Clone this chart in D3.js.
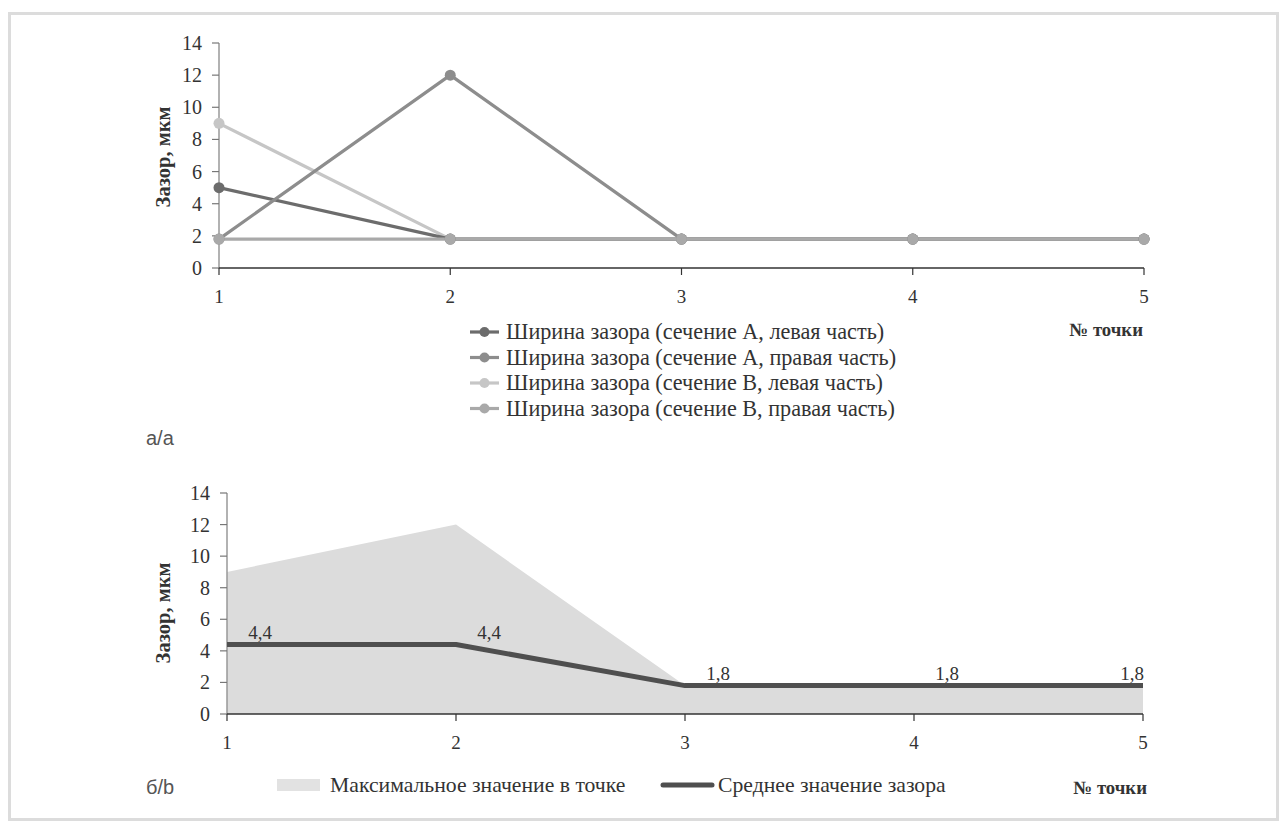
<!DOCTYPE html>
<html><head><meta charset="utf-8">
<script src="https://cdn.jsdelivr.net/npm/d3@7"></script>
<style>body{margin:0;background:#fff}svg{display:block}
text{font-family:"Liberation Serif","Times New Roman",serif;fill:#333}
text.sans{font-family:"Liberation Sans",Arial,sans-serif;fill:#555}
</style>
</head><body>
<svg id="c" width="1282" height="827"></svg>
<script>
const points = [1, 2, 3, 4, 5];
const yTicks = [0, 2, 4, 6, 8, 10, 12, 14];
const seriesNames = [
  "Ширина зазора (сечение А, левая часть)",
  "Ширина зазора (сечение А, правая часть)",
  "Ширина зазора (сечение В, левая часть)",
  "Ширина зазора (сечение В, правая часть)"
];
const aLeft  = [5, 1.8, 1.8, 1.8, 1.8];
const aRight = [1.8, 12, 1.8, 1.8, 1.8];
const bLeft  = [9, 1.8, 1.8, 1.8, 1.8];
const bRight = [1.8, 1.8, 1.8, 1.8, 1.8];
const maxVals = [9, 12, 1.8, 1.8, 1.8];
const avgVals = [4.4, 4.4, 1.8, 1.8, 1.8];
const bottomLegend = ["Максимальное значение в точке", "Среднее значение зазора"];
const yTitle = "Зазор, мкм";
const xTitle = "№ точки";

const colors = ["#6c6c6c", "#8d8d8d", "#c6c6c6", "#a9a9a9"];
const svg = d3.select("#c");

svg.append("rect").attr("x", 9.5).attr("y", 13.5).attr("width", 1268).attr("height", 806)
  .attr("fill", "none").attr("stroke", "#dcdcdc").attr("stroke-width", 3);

function axes(g, x, y, yTitleX, yTitleY, xLabelBase) {
  const [x0, x1] = x.range();
  const [y0, y1] = y.range();
  g.append("line").attr("x1", x0).attr("x2", x0).attr("y1", y0).attr("y2", y1)
    .attr("stroke", "#999").attr("stroke-width", 1.5);
  yTicks.forEach(t => {
    g.append("line").attr("x1", x0 - 7).attr("x2", x0).attr("y1", y(t)).attr("y2", y(t))
      .attr("stroke", "#777").attr("stroke-width", 1.2);
    g.append("text").attr("x", x0 - 17).attr("y", y(t) + 7).attr("text-anchor", "end")
      .style("font-size", "20px").text(t);
  });
  g.append("line").attr("x1", x0).attr("x2", x1).attr("y1", y0).attr("y2", y0)
    .attr("stroke", "#333").attr("stroke-width", 1.5);
  points.forEach(p => {
    g.append("line").attr("x1", x(p)).attr("x2", x(p)).attr("y1", y0).attr("y2", y0 + 7)
      .attr("stroke", "#333").attr("stroke-width", 1.2);
    g.append("text").attr("x", x(p)).attr("y", xLabelBase).attr("text-anchor", "middle")
      .style("font-size", "19px").text(p);
  });
  g.append("text").attr("transform", `translate(${yTitleX},${yTitleY}) rotate(-90)`)
    .attr("text-anchor", "middle").style("font-size", "20.5px")
    .style("font-weight", "bold").text(yTitle);
}

// ---------- Chart a ----------
const xa = d3.scaleLinear().domain([1, 5]).range([219, 1144]);
const ya = d3.scaleLinear().domain([0, 14]).range([268, 43]);
const ga = svg.append("g");
axes(ga, xa, ya, 170, 157, 303);

const topSeries = [aLeft, aRight, bLeft, bRight];
const lineA = d3.line().x((d, i) => xa(points[i])).y(d => ya(d));
const order = [2, 0, 1, 3];
order.forEach(k => {
  ga.append("path").attr("d", lineA(topSeries[k])).attr("fill", "none")
    .attr("stroke", colors[k]).attr("stroke-width", 3.2).attr("stroke-linejoin", "round");
});
order.forEach(k => {
  ga.selectAll(null).data(topSeries[k]).enter().append("circle")
    .attr("cx", (d, i) => xa(points[i])).attr("cy", d => ya(d)).attr("r", 5.5)
    .attr("fill", colors[k]);
});

seriesNames.forEach((n, i) => {
  const yy = 332 + i * 25.5;
  ga.append("line").attr("x1", 470).attr("x2", 499).attr("y1", yy).attr("y2", yy)
    .attr("stroke", colors[i]).attr("stroke-width", 3.2);
  ga.append("circle").attr("cx", 484.5).attr("cy", yy).attr("r", 5).attr("fill", colors[i]);
  ga.append("text").attr("x", 506).attr("y", yy + 7).style("font-size", "22.2px").text(n);
});
ga.append("text").attr("x", 1143).attr("y", 336).attr("text-anchor", "end")
  .style("font-size", "18.8px").style("font-weight", "bold").text(xTitle);
ga.append("text").attr("class", "sans").attr("x", 146).attr("y", 445)
  .style("font-size", "20px").text("а/а");

// ---------- Chart b ----------
const xb = d3.scaleLinear().domain([1, 5]).range([227, 1143]);
const yb = d3.scaleLinear().domain([0, 14]).range([714, 493]);
const gb = svg.append("g");
const area = d3.area().x((d, i) => xb(points[i])).y0(yb(0)).y1(d => yb(d));
gb.append("path").attr("d", area(maxVals)).attr("fill", "#dcdcdc");
axes(gb, xb, yb, 170, 613, 749);
const lineB = d3.line().x((d, i) => xb(points[i])).y(d => yb(d));
gb.append("path").attr("d", lineB(avgVals)).attr("fill", "none")
  .attr("stroke", "#4f4f4f").attr("stroke-width", 5).attr("stroke-linejoin", "round");
const fmt = v => String(v).replace(".", ",");
gb.selectAll(null).data(avgVals).enter().append("text")
  .attr("x", (d, i) => Math.min(xb(points[i]) + 33, xb.range()[1] - 11))
  .attr("y", d => yb(d) - 6).attr("text-anchor", "middle")
  .style("font-size", "19px").text(d => fmt(d));

gb.append("rect").attr("x", 277).attr("y", 779).attr("width", 43).attr("height", 12).attr("fill", "#e2e2e2");
gb.append("text").attr("x", 330).attr("y", 792).style("font-size", "21.7px").text(bottomLegend[0]);
gb.append("line").attr("x1", 663).attr("x2", 712).attr("y1", 785).attr("y2", 785)
  .attr("stroke", "#4f4f4f").attr("stroke-width", 5).attr("stroke-linecap", "round");
gb.append("text").attr("x", 718).attr("y", 792).style("font-size", "21.7px").text(bottomLegend[1]);
gb.append("text").attr("x", 1147).attr("y", 794).attr("text-anchor", "end")
  .style("font-size", "18.8px").style("font-weight", "bold").text(xTitle);
gb.append("text").attr("class", "sans").attr("x", 146).attr("y", 794)
  .style("font-size", "20px").text("б/b");
</script>
</body></html>
